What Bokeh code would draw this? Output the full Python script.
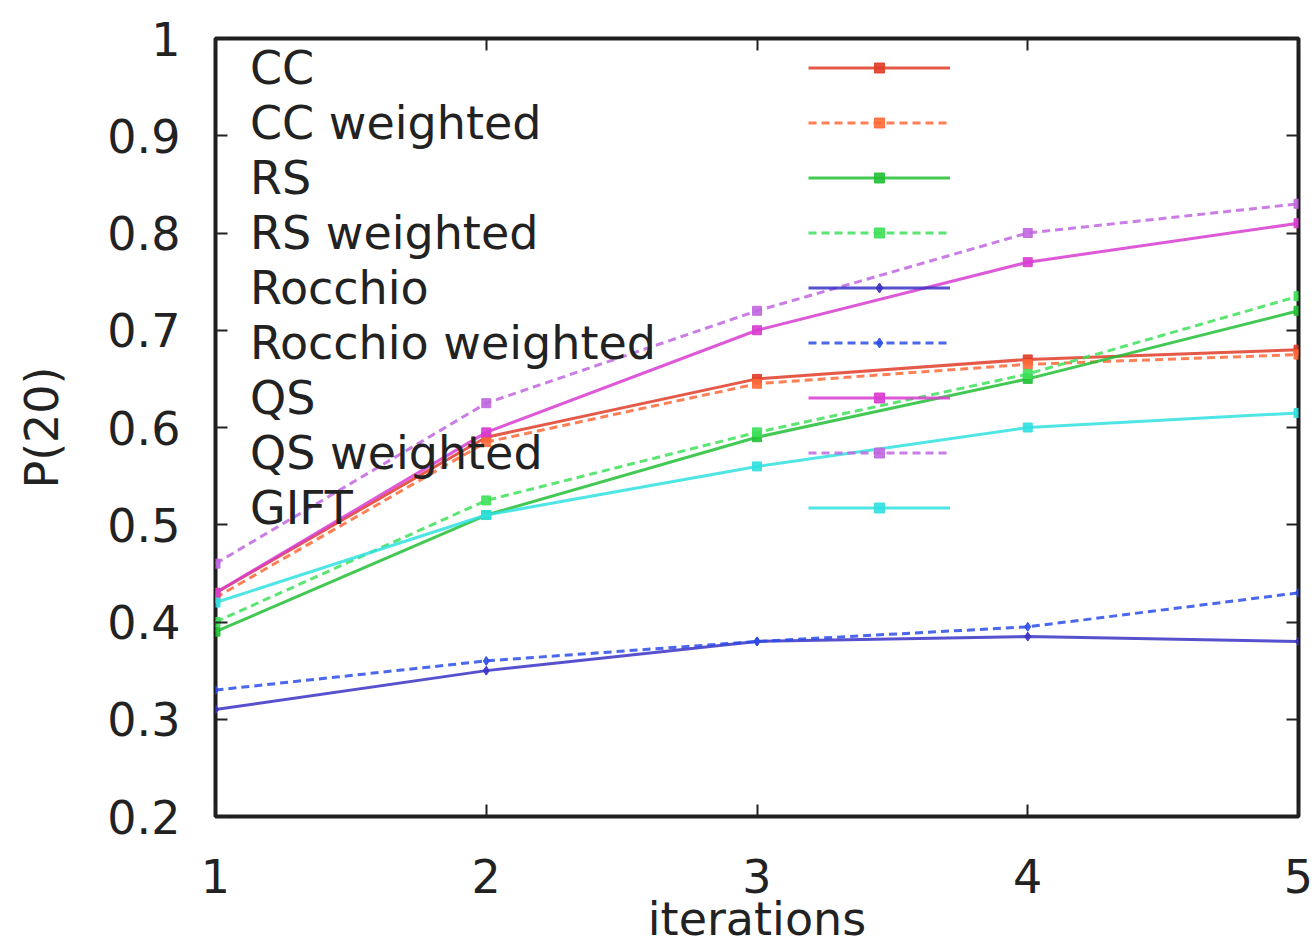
from bokeh.plotting import figure
from bokeh.models import Legend, LegendItem, LinearAxis, FixedTicker
from bokeh.embed import file_html
from bokeh.resources import INLINE

# ---------------- data ----------------
iterations = [1, 2, 3, 4, 5]
cc = [0.43, 0.59, 0.65, 0.67, 0.68]
cc_weighted = [0.425, 0.585, 0.645, 0.665, 0.675]
rs = [0.39, 0.51, 0.59, 0.65, 0.72]
rs_weighted = [0.40, 0.525, 0.595, 0.655, 0.735]
rocchio = [0.31, 0.35, 0.38, 0.385, 0.38]
rocchio_weighted = [0.33, 0.36, 0.38, 0.395, 0.43]
qs = [0.43, 0.595, 0.70, 0.77, 0.81]
qs_weighted = [0.46, 0.625, 0.72, 0.80, 0.83]
gift = [0.42, 0.51, 0.56, 0.60, 0.615]

series_names = ["CC", "CC weighted", "RS", "RS weighted", "Rocchio",
                "Rocchio weighted", "QS", "QS weighted", "GIFT"]
series_values = [cc, cc_weighted, rs, rs_weighted, rocchio,
                 rocchio_weighted, qs, qs_weighted, gift]

x_ticks = [1, 2, 3, 4, 5]
y_ticks = [0.2, 0.3, 0.4, 0.5, 0.6, 0.7, 0.8, 0.9, 1.0]
y_tick_labels = ["0.2", "0.3", "0.4", "0.5", "0.6", "0.7", "0.8", "0.9", "1"]
x_label = "iterations"
y_label = "P(20)"

# ---------------- styles ----------------
colors = ["#e03c28", "#ff6a3a", "#22c035", "#3ee05a", "#3a32c4",
          "#2c4ce8", "#d83cd0", "#c066e0", "#30e0e0"]
dashes = ["solid", "8 5", "solid", "8 5", "solid", "8 5", "solid", "8 5", "solid"]
markers = ["square", "square", "square", "square", "diamond",
           "diamond", "square", "square", "square"]
FONT = "DejaVu Sans"
TXT = "#222222"

p = figure(width=1314, height=948, x_range=(1, 5), y_range=(0.2, 1.0),
           output_backend="svg", toolbar_location=None,
           min_border_left=215, min_border_right=16,
           min_border_top=38, min_border_bottom=126)
p.background_fill_color = "white"
p.border_fill_color = "white"
p.grid.visible = False
p.outline_line_color = "#1e1e1e"
p.outline_line_width = 4

for ax in (p.xaxis[0], p.yaxis[0]):
    ax.axis_line_color = None
    ax.major_tick_in = 12
    ax.major_tick_out = 0
    ax.major_tick_line_color = "#222222"
    ax.major_tick_line_width = 2
    ax.minor_tick_line_color = None
    ax.major_label_text_font = FONT
    ax.major_label_text_font_size = "46px"
    ax.major_label_text_color = TXT
    ax.axis_label_text_font = FONT
    ax.axis_label_text_font_size = "46px"
    ax.axis_label_text_font_style = "normal"
    ax.axis_label_text_color = TXT

p.xaxis.ticker = FixedTicker(ticks=x_ticks)
p.yaxis.ticker = FixedTicker(ticks=y_ticks)
p.yaxis.major_label_overrides = {v: s for v, s in zip(y_ticks, y_tick_labels)}
p.xaxis.axis_label = x_label
p.yaxis.axis_label = y_label
p.xaxis.major_label_standoff = 42
p.xaxis.axis_label_standoff = -4
p.yaxis.major_label_standoff = 35
p.yaxis.axis_label_standoff = 35

def mirror_axis(ticks):
    return LinearAxis(ticker=FixedTicker(ticks=ticks), major_label_text_font_size="8px",
                      major_label_text_color=None, major_label_standoff=0,
                      axis_line_color=None, major_tick_in=12, major_tick_out=0,
                      minor_tick_line_color=None, major_tick_line_color="#222222",
                      major_tick_line_width=2)

p.add_layout(mirror_axis(x_ticks), "above")
p.add_layout(mirror_axis(y_ticks), "right")

items_text = []
items_glyph = []
for name, vals, c, d, m in zip(series_names, series_values, colors, dashes, markers):
    lr = p.line(iterations, vals, line_color=c, line_width=3, line_dash=d, line_alpha=0.85)
    sr = p.scatter(iterations, vals, marker=m, size=9, fill_color=c, line_color=c, alpha=0.9)
    items_text.append(LegendItem(label=name, renderers=[lr, sr]))
    items_glyph.append(LegendItem(label=" ", renderers=[lr, sr]))

leg_text = Legend(items=items_text, location=(35, 281), glyph_width=0, glyph_height=25,
                  label_height=55, label_standoff=0, spacing=0, padding=0, margin=0,
                  border_line_color=None, background_fill_alpha=0,
                  label_text_font=FONT, label_text_font_size="46px",
                  label_text_color=TXT)
leg_glyph = Legend(items=items_glyph, location=(593, 281), glyph_width=142, glyph_height=25,
                   label_height=55, label_width=0, label_standoff=0, spacing=0, padding=0,
                   margin=0, border_line_color=None, background_fill_alpha=0,
                   label_text_font_size="8px", label_text_color=None)
p.add_layout(leg_text)
p.add_layout(leg_glyph)

open("out.html", "w").write(file_html(p, INLINE))
